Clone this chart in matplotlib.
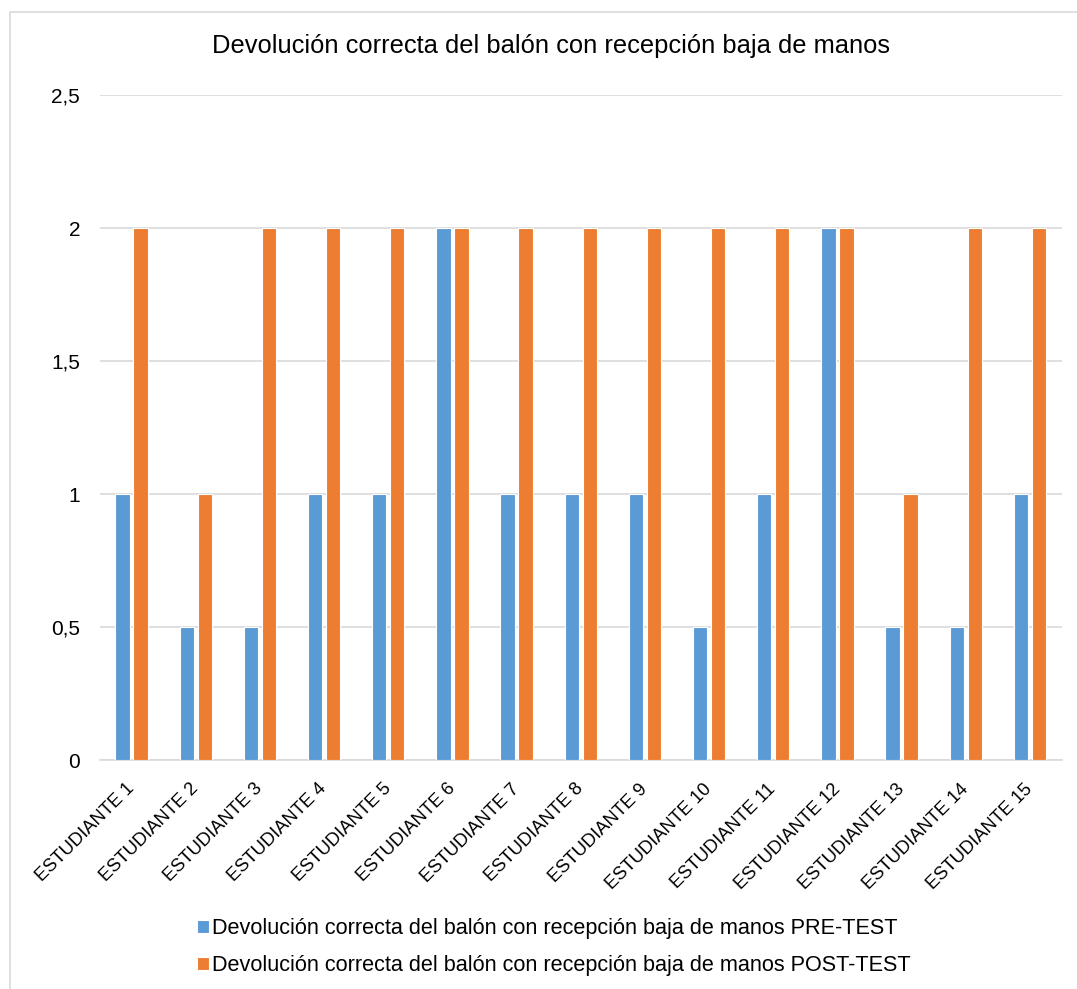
import numpy as np
import matplotlib.pyplot as plt
from matplotlib.patches import Rectangle
from matplotlib.ticker import FuncFormatter

plt.rcParams['font.family'] = ['Liberation Sans', 'DejaVu Sans']

estudiantes = ['ESTUDIANTE %d' % i for i in range(1, 16)]
pre_test = [1, 0.5, 0.5, 1, 1, 2, 1, 1, 1, 0.5, 1, 2, 0.5, 0.5, 1]
post_test = [2, 1, 2, 2, 2, 2, 2, 2, 2, 2, 2, 2, 1, 2, 2]

titulo = 'Devolución correcta del balón con recepción baja de manos'
serie_pre = titulo + ' PRE-TEST'
serie_post = titulo + ' POST-TEST'

azul = '#5B9BD5'
naranja = '#ED7D31'
gris = '#D9D9D9'

fig = plt.figure(figsize=(10.77, 9.89), dpi=100)
ax = fig.add_axes([99.5 / 1077, 1 - 760 / 989, 962.5 / 1077, 665 / 989])

# marco del grafico (solo se ve el borde izquierdo y superior)
fig.patches.append(Rectangle((10 / 1077, -0.05), 1.2, 1 - 12 / 989 + 0.05,
                             transform=fig.transFigure, fill=False,
                             edgecolor=gris, linewidth=1.2))

x = np.arange(len(estudiantes))
w = 0.225
ax.bar(x - 0.14, pre_test, w, color=azul, edgecolor='white', linewidth=0.8,
       label=serie_pre, zorder=3)
ax.bar(x + 0.14, post_test, w, color=naranja, edgecolor='white', linewidth=0.8,
       label=serie_post, zorder=3)

ax.set_xlim(-0.5, len(estudiantes) - 0.5)
ax.set_ylim(0, 2.5)
ax.set_yticks(np.arange(0, 2.51, 0.5))
ax.yaxis.set_major_formatter(FuncFormatter(
    lambda v, p: ('%g' % v).replace('.', ',')))
ax.grid(axis='y', color=gris, linewidth=1.2, zorder=0)
for s in ['top', 'right', 'left']:
    ax.spines[s].set_visible(False)
ax.spines['bottom'].set_color(gris)
ax.spines['bottom'].set_linewidth(1.2)
ax.tick_params(axis='y', length=0, pad=14, labelsize=15, labelcolor='#000000')
ax.tick_params(axis='x', length=0, pad=19)

ax.set_xticks(x)
ax.set_xticklabels(estudiantes, rotation=45, ha='right', va='center',
                   rotation_mode='anchor', fontsize=13.2)

fig.text(0.512, 1 - 46 / 989, titulo, ha='center', va='center', fontsize=18.4)

fig.legend(loc='center', bbox_to_anchor=(0.514, 1 - 947 / 989), ncol=1,
           frameon=False, fontsize=15.6, handlelength=0.55, handleheight=0.55,
           handletextpad=0.15, labelspacing=0.72)

fig.savefig('out.png', dpi=100)
